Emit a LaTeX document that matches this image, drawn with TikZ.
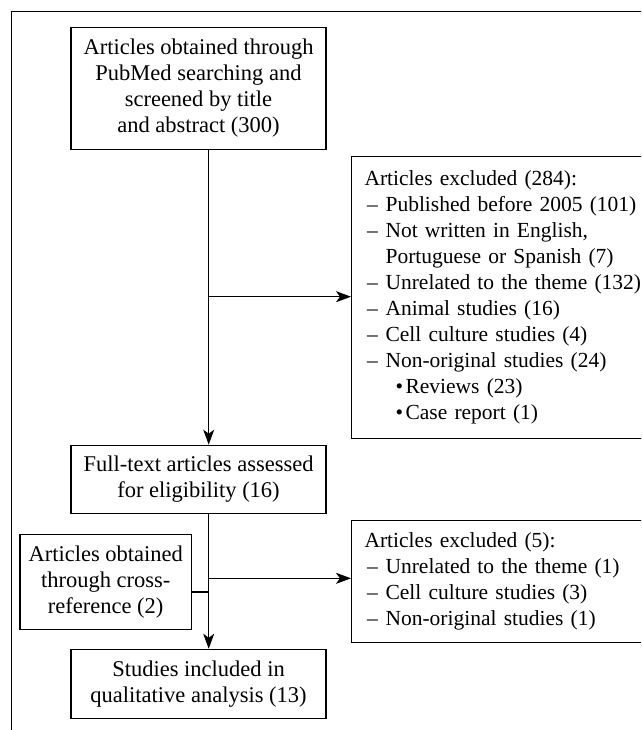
\documentclass[tikz,border=0pt]{standalone}
\usepackage{fontspec}
\setmainfont{Liberation Serif}
\usetikzlibrary{arrows.meta}

\newcommand{\exitem}[1]{\hspace*{2.5pt}\makebox[18.5pt][l]{--}#1}
\newcommand{\exwrap}[1]{\hspace*{21pt}#1}
\newcommand{\exsub}[1]{\hspace*{31pt}\makebox[10pt][l]{\textbullet}#1}

\begin{document}
\begin{tikzpicture}[x=1pt, y=-1pt,
  box/.style={draw, line width=1.1pt, align=center, inner sep=0pt,
    font=\fontsize{22.5}{26}\selectfont},
  exclbox/.style={draw, line width=1.1pt, align=left, anchor=north west,
    inner xsep=13pt, inner ysep=0pt, text width=300pt,
    font=\fontsize{21.5}{26}\selectfont},
  arrow/.style={line width=1.1pt, -{Stealth[length=15pt, width=11pt, inset=4pt]}}]
\useasboundingbox (0,0) rectangle (641,730);
\clip (0,0) rectangle (641,730);

% frame
\draw[line width=1.1pt] (11.4,745) -- (11.4,11.7) -- (660,11.7);

% main boxes
\node[box, minimum width=255pt, minimum height=122pt] (search) at (198.5,88.3)
  {Articles obtained through\\PubMed searching and\\screened by title\\and abstract (300)};
\node[box, minimum width=255pt, minimum height=68pt] (full) at (198.5,479.2)
  {Full-text articles assessed\\for eligibility (16)};
\node[box, minimum width=171.5pt, minimum height=95.3pt] (cross) at (105.7,581.7)
  {Articles obtained\\through cross-\\reference (2)};
\node[box, minimum width=255pt, minimum height=69pt] (studies) at (198.5,683.8)
  {Studies included in\\qualitative analysis (13)};

% exclusion boxes
\node[exclbox, minimum height=282pt] (excl1) at (351,156)
  {Articles excluded (284):\\
   \exitem{Published before 2005 (101)}\\
   \exitem{Not written in English,}\\
   \exwrap{Portuguese or Spanish (7)}\\
   \exitem{Unrelated to the theme (132)}\\
   \exitem{Animal studies (16)}\\
   \exitem{Cell culture studies (4)}\\
   \exitem{Non-original studies (24)}\\
   \exsub{Reviews (23)}\\
   \exsub{Case report (1)}};
\node[exclbox, minimum height=122pt] (excl2) at (351,520)
  {Articles excluded (5):\\
   \exitem{Unrelated to the theme (1)}\\
   \exitem{Cell culture studies (3)}\\
   \exitem{Non-original studies (1)}};

% spine of the flow
\coordinate (spine) at (208.7,0);
\coordinate (split1) at (208.7,296.7);
\coordinate (split2) at (208.7,578.3);
\coordinate (join) at (208.7,592);

\draw[arrow] (search.south -| spine) -- (full.north -| spine);
\draw[arrow] (split1) -- (split1 -| excl1.west);
\draw[arrow] (full.south -| spine) -- (studies.north -| spine);
\draw[arrow] (split2) -- (split2 -| excl2.west);
\draw[line width=1.1pt] (join -| cross.east) -- (join);
\end{tikzpicture}
\end{document}
